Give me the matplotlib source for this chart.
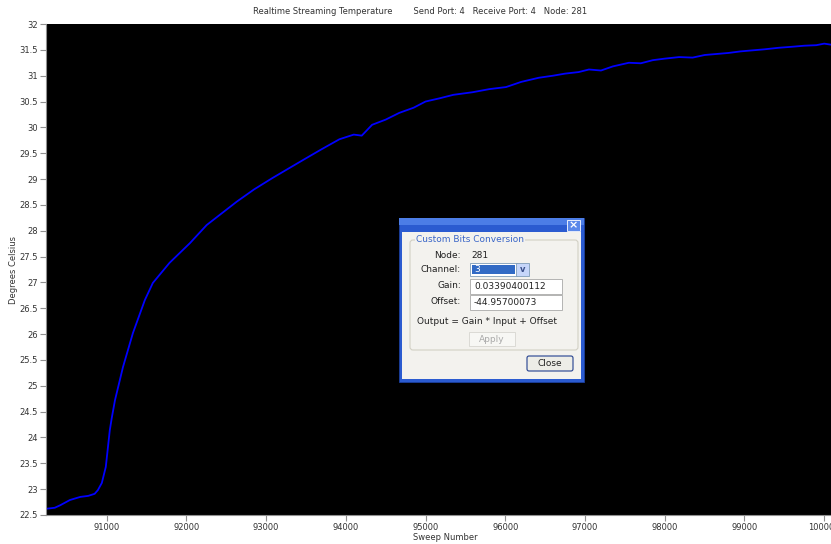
import numpy as np
import matplotlib
matplotlib.use("Agg")
import matplotlib.pyplot as plt
from matplotlib.patches import Rectangle, FancyBboxPatch

# readings
sweep = [90240, 90350, 90420, 90540, 90670, 90770, 90850, 90890, 90940, 90990,
         91040, 91065, 91105, 91205, 91330, 91480, 91580, 91790, 92045, 92255,
         92630, 92850, 93080, 93300, 93510, 93700, 93920, 94100, 94200, 94330,
         94500, 94670, 94850, 95000, 95170, 95350, 95590, 95800, 96010, 96200,
         96420, 96600, 96750, 96920, 97050, 97200, 97350, 97550, 97700, 97850,
         98000, 98180, 98350, 98500, 98650, 98800, 98950, 99100, 99250, 99430,
         99600, 99750, 99900, 100000, 100085]
temp = [22.62, 22.64, 22.69, 22.79, 22.85, 22.87, 22.91, 22.98, 23.12, 23.43,
        24.14, 24.38, 24.72, 25.36, 26.02, 26.66, 26.99, 27.38, 27.76, 28.11,
        28.56, 28.80, 29.02, 29.22, 29.41, 29.58, 29.77, 29.86, 29.84, 30.05,
        30.15, 30.28, 30.38, 30.50, 30.56, 30.63, 30.68, 30.74, 30.78, 30.88,
        30.96, 31.00, 31.04, 31.07, 31.12, 31.10, 31.18, 31.25, 31.24, 31.30,
        31.33, 31.36, 31.35, 31.40, 31.42, 31.44, 31.47, 31.49, 31.51, 31.54,
        31.56, 31.58, 31.59, 31.62, 31.60]
xticks = [91000, 92000, 93000, 94000, 95000, 96000, 97000, 98000, 99000, 100000]
yticks = np.arange(22.5, 32.01, 0.5)
ytick_labels = ["%g" % v for v in yticks]

W, H = 831, 544
fig = plt.figure(figsize=(W/100, H/100), dpi=100)
fig.patch.set_facecolor("white")
ax = fig.add_axes([46/W, 1 - 515/H, (W - 46)/W, (515 - 24)/H])
ax.set_facecolor("black")
ax.plot(sweep, temp, color="#0000FF", lw=1.3)
ax.set_xlim(90240, 100085)
ax.set_ylim(22.5, 32)
ax.set_xticks(xticks)
ax.set_yticks(yticks)
ax.set_yticklabels(ytick_labels)
for s in ("top", "right"):
    ax.spines[s].set_visible(False)
for s in ("left", "bottom"):
    ax.spines[s].set_color("#909090")
    ax.spines[s].set_linewidth(0.8)
ax.tick_params(axis="both", direction="out", length=4, width=0.8, color="#909090",
               labelsize=6, labelcolor="#333333", pad=2)
ax.set_xlabel("Sweep Number", fontsize=6, color="#333333")
ax.xaxis.set_label_coords((445 - 46)/(W - 46), -0.036)
ax.set_ylabel("Degrees Celsius", fontsize=6, color="#333333")
ax.yaxis.set_label_coords(-0.036, 0.5)
fig.text(420/W, 1 - 12/H,
         "Realtime Streaming Temperature        Send Port: 4   Receive Port: 4   Node: 281",
         ha="center", va="center", fontsize=6, color="#333333")

# ---- dialog overlay (pixel coordinates) ----
ov = fig.add_axes([0, 0, 1, 1], zorder=5)
ov.set_xlim(0, W); ov.set_ylim(H, 0); ov.axis("off")
ov.add_patch(Rectangle((399, 218), 185, 164, fc="#2B5BD0", ec="#1C3F9E", lw=0.6))
ov.add_patch(Rectangle((399, 218), 185, 7, fc="#4C7DE6", ec="none"))
ov.add_patch(Rectangle((402, 232), 179, 147, fc="#F3F2EE", ec="none"))
ov.add_patch(Rectangle((567, 220), 13, 11, fc="#5A88EA", ec="white", lw=0.6))
ov.text(573.5, 225.5, "×", color="white", fontsize=8, fontweight="bold",
        ha="center", va="center")
ov.add_patch(FancyBboxPatch((410, 240), 168, 110, boxstyle="round,pad=0,rounding_size=3",
                            fc="none", ec="#D2D0C4", lw=0.8))
fs = 6.5
ov.text(416, 240, "Custom Bits Conversion", color="#3A66C8", fontsize=fs,
        va="center", ha="left",
        bbox=dict(fc="#F3F2EE", ec="none", pad=0.6))
tc = "#222222"
ov.text(461, 255, "Node:", fontsize=fs, color=tc, ha="right", va="center")
ov.text(471, 255, "281", fontsize=fs, color=tc, ha="left", va="center")
ov.text(461, 270, "Channel:", fontsize=fs, color=tc, ha="right", va="center")
ov.add_patch(Rectangle((470, 263), 47, 13, fc="white", ec="#7F9DB9", lw=0.6))
ov.add_patch(Rectangle((472, 265), 43, 9, fc="#316AC5", ec="none"))
ov.text(474, 270, "3", fontsize=fs, color="white", ha="left", va="center")
ov.add_patch(Rectangle((516, 263), 13, 13, fc="#C6D6FA", ec="#7F9DB9", lw=0.6))
ov.text(522.5, 269, "v", fontsize=6, color="#3A4F8A", ha="center", va="center",
        fontweight="bold")
ov.text(461, 286, "Gain:", fontsize=fs, color=tc, ha="right", va="center")
ov.add_patch(Rectangle((470, 279), 92, 15, fc="white", ec="#A8A8A8", lw=0.6))
ov.text(474, 286.5, "0.03390400112", fontsize=fs, color=tc, ha="left", va="center")
ov.text(461, 302, "Offset:", fontsize=fs, color=tc, ha="right", va="center")
ov.add_patch(Rectangle((470, 295), 92, 15, fc="white", ec="#A8A8A8", lw=0.6))
ov.text(474, 302.5, "-44.95700073", fontsize=fs, color=tc, ha="left", va="center")
ov.text(487, 321, "Output = Gain * Input + Offset", fontsize=fs, color=tc,
        ha="center", va="center")
ov.add_patch(Rectangle((469, 332), 46, 14, fc="#F7F7F4", ec="#D6D6D0", lw=0.6))
ov.text(492, 339.5, "Apply", fontsize=fs, color="#AAAAAA", ha="center", va="center")
ov.add_patch(FancyBboxPatch((527, 356), 46, 15, boxstyle="round,pad=0,rounding_size=2",
                            fc="#EDEDE7", ec="#23408F", lw=0.8))
ov.text(550, 364, "Close", fontsize=fs, color=tc, ha="center", va="center")

fig.savefig("out.png", dpi=100)
